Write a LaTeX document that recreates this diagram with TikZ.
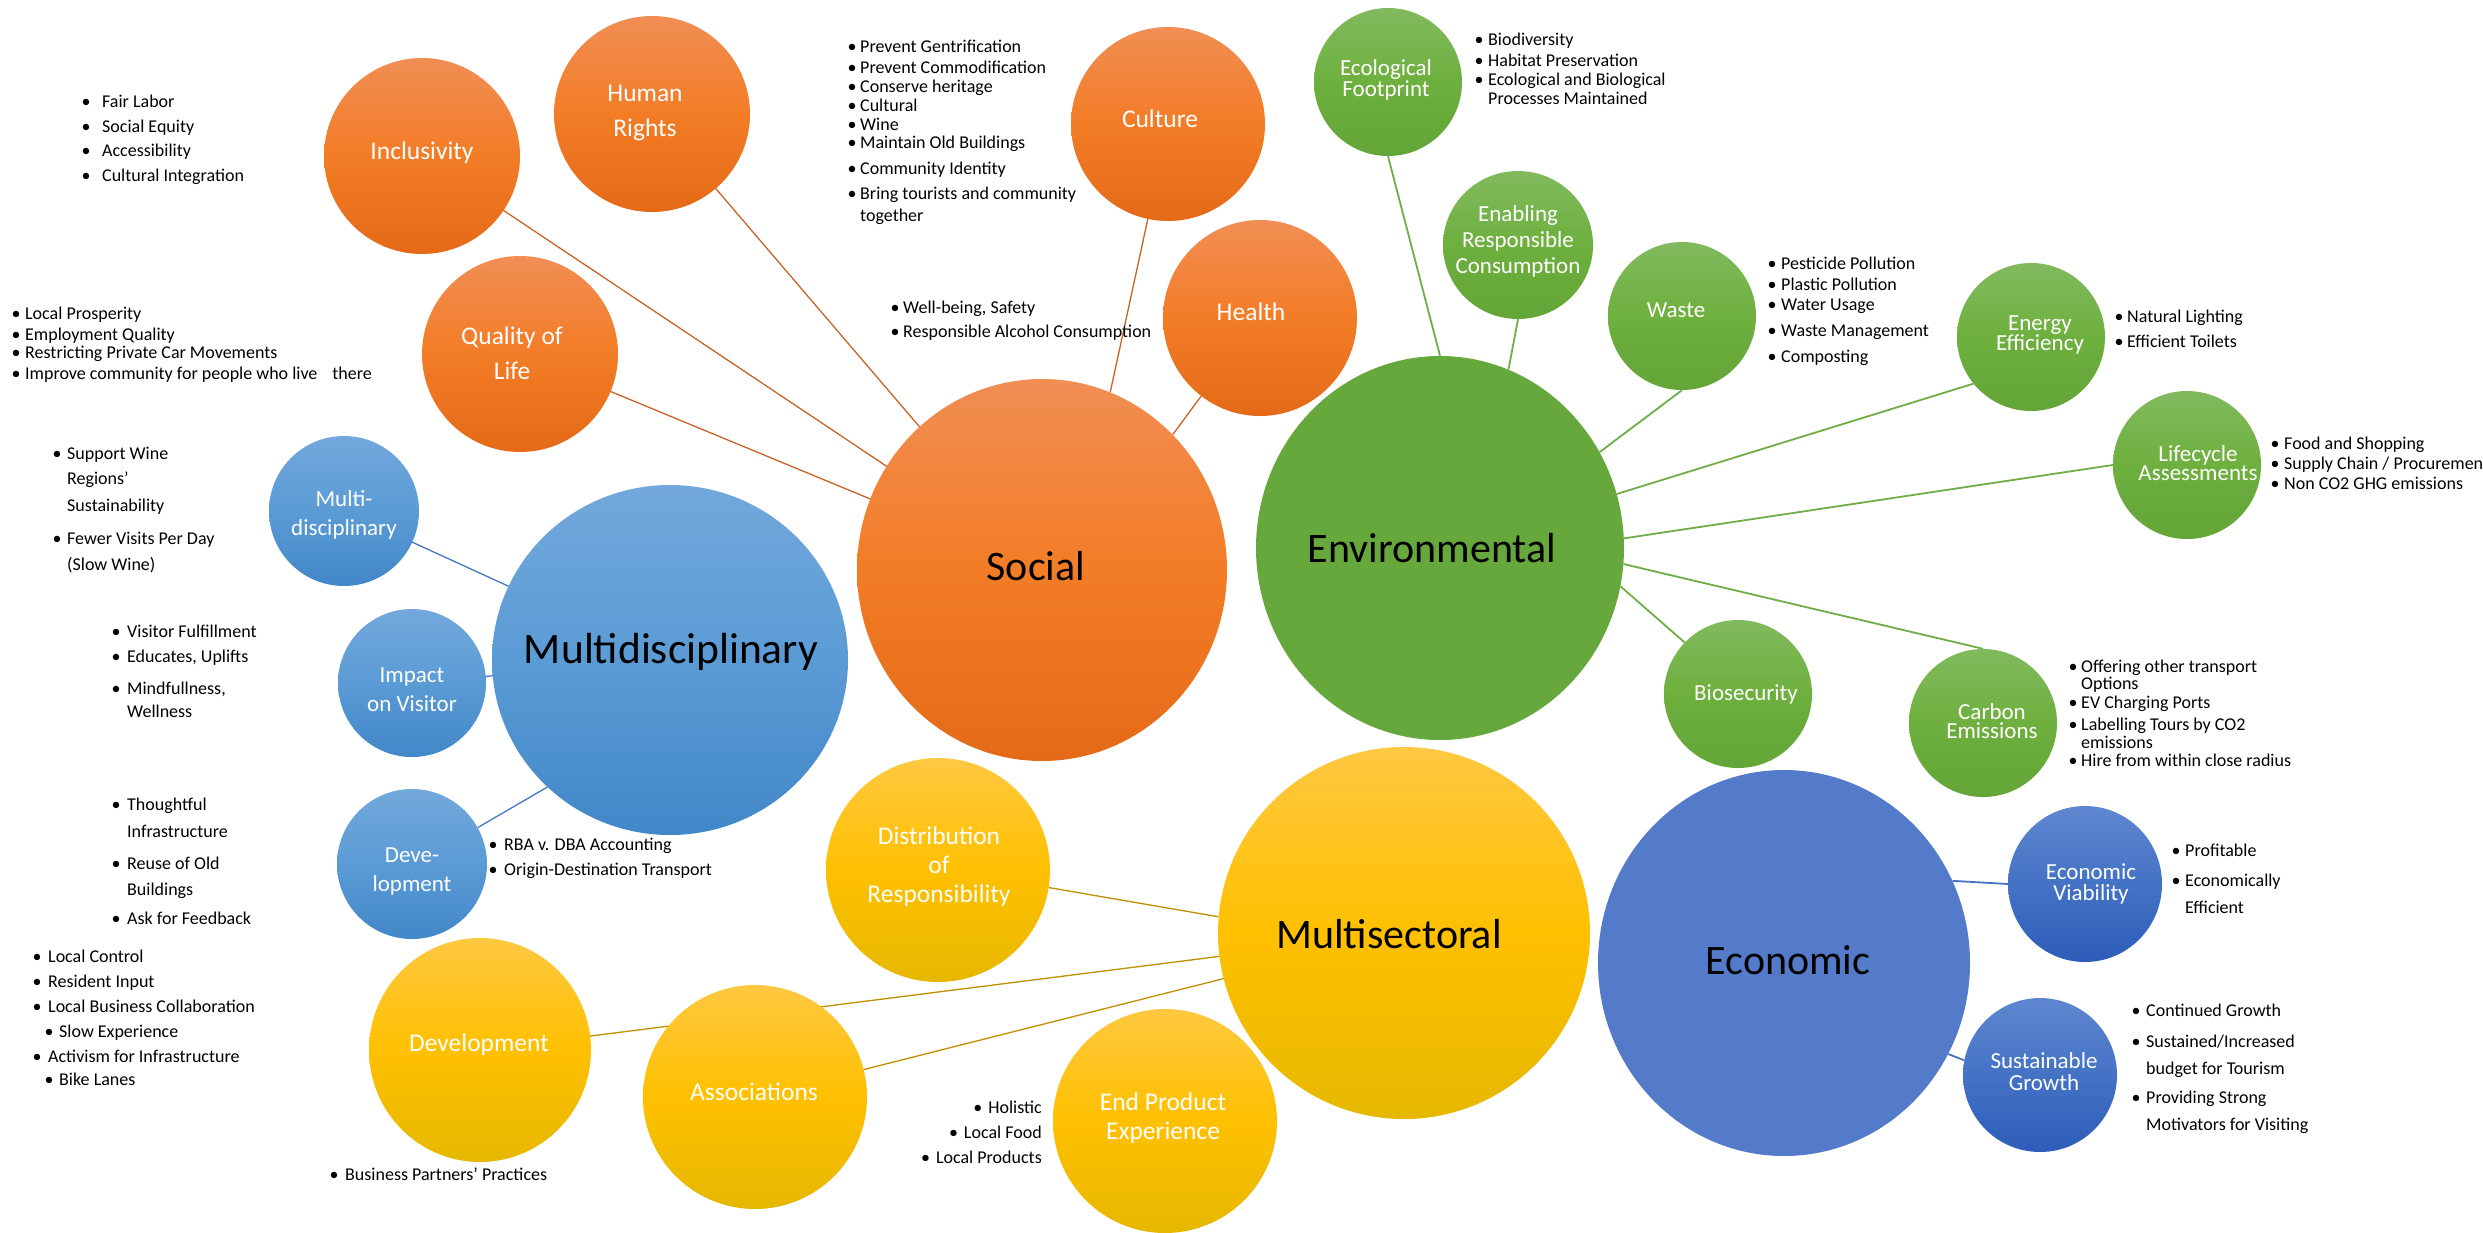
\documentclass[tikz,border=0pt]{standalone}
\usepackage{fontspec}
\setmainfont{Carlito}
\usetikzlibrary{shapes.geometric}
\pgfdeclarelayer{bg}
\pgfdeclarelayer{lines}
\pgfsetlayers{bg,lines,main}
\definecolor{orT}{RGB}{241,142,84}
\definecolor{orM}{RGB}{243,124,38}
\definecolor{orB}{RGB}{228,106,24}
\definecolor{grT}{RGB}{129,186,94}
\definecolor{grM}{RGB}{110,176,62}
\definecolor{grB}{RGB}{99,165,55}
\definecolor{grF}{RGB}{102,168,59}
\definecolor{blT}{RGB}{114,168,220}
\definecolor{blM}{RGB}{91,155,213}
\definecolor{blB}{RGB}{66,135,200}
\definecolor{ylT}{RGB}{255,200,65}
\definecolor{ylM}{RGB}{255,192,0}
\definecolor{ylB}{RGB}{230,184,0}
\definecolor{dbT}{RGB}{95,135,208}
\definecolor{dbM}{RGB}{68,114,196}
\definecolor{dbB}{RGB}{45,93,185}
\definecolor{ecF}{RGB}{84,123,201}
\definecolor{lnO}{RGB}{200,100,40}
\definecolor{lnG}{RGB}{112,173,71}
\definecolor{lnB}{RGB}{70,120,195}
\definecolor{lnY}{RGB}{191,144,0}
\newcommand\lstfont{\fontsize{18}{21}\selectfont}
\newcommand\bulitem[5]{\node[lst] (#1) at ({#2-4.5},{#4+5}) {\makebox[\dimexpr #3pt-#2pt+4.5pt\relax][l]{\textbullet}#5};}
\newcommand\contitem[4]{\node[lst] (#1) at (#2,{#3+5}) {#4};}
\tikzset{
  lst/.style={anchor=base west, inner sep=0pt, font=\lstfont},
  lstr/.style={anchor=base east, inner sep=0pt, font=\lstfont},
  rxy/.style 2 args={minimum width={#1pt*2}, minimum height={#2pt*2}},
  bub/.style={ellipse, inner sep=0pt, draw=none},
  obub/.style={bub, top color=orT, bottom color=orB, middle color=orM},
  gbub/.style={bub, top color=grT, bottom color=grB, middle color=grM},
  bbub/.style={bub, top color=blT, bottom color=blB, middle color=blM},
  ybub/.style={bub, top color=ylT, bottom color=ylB, middle color=ylM},
  dbub/.style={bub, top color=dbT, bottom color=dbB, middle color=dbM},
  lblw/.style={text=white, align=center, inner sep=0pt},
  lbla/.style={lblw, font=\fontsize{25.5}{29}\selectfont},
  lblb/.style={lblw, font=\fontsize{23}{19}\selectfont},
  lblk/.style={text=black, inner sep=0pt, font=\fontsize{42}{46}\selectfont},
  lo/.style={draw=lnO, line width=1.3pt},
  lg/.style={draw=lnG, line width=1.8pt},
  lb/.style={draw=lnB, line width=1.3pt},
  ly/.style={draw=lnY, line width=1.3pt},
  ld/.style={draw=dbM, line width=1.8pt},
}
\begin{document}
\begin{tikzpicture}[x=1pt,y=-1pt]
\useasboundingbox (0,0) rectangle (2483,1232);
\begin{pgfonlayer}{bg}
\fill[white] (0,0) rectangle (2483,1232);
\end{pgfonlayer}

% ---------- bubbles ----------
\node[obub, rxy={98}{98}] (incl) at (422,156) {};
\node[obub, rxy={98}{98}] (hum) at (652,114) {};
\node[obub, rxy={98}{98}] (qol) at (520,354) {};
\node[obub, rxy={97}{97}] (cult) at (1168,124) {};
\node[obub, rxy={97}{98}] (hlth) at (1260,318) {};
\node[obub, rxy={185}{191}] (soc) at (1042,570) {};

\node[bub, fill=grF, rxy={184}{192}] (env) at (1440,548) {};
\node[gbub, rxy={74}{74}] (eco) at (1388,82) {};
\node[gbub, rxy={75}{74}] (enab) at (1518,245) {};
\node[gbub, rxy={74}{74}] (waste) at (1682,316) {};
\node[gbub, rxy={74}{74}] (enrg) at (2031,337) {};
\node[gbub, rxy={74}{74}] (life) at (2187,465) {};
\node[gbub, rxy={74}{74}] (bio) at (1738,694) {};
\node[gbub, rxy={74}{74}] (carb) at (1983,723) {};

\node[bbub, rxy={178}{175}] (mdis) at (670,660) {};
\node[bbub, rxy={75}{75}] (mdsm) at (344,511) {};
\node[bbub, rxy={74}{74}] (imp) at (412,683) {};
\node[bbub, rxy={75}{75}] (dvs) at (412,864) {};

\node[ybub, rxy={186}{186}] (msec) at (1404,933) {};
\node[ybub, rxy={112}{112}] (dist) at (938,870) {};
\node[ybub, rxy={111}{112}] (dev) at (480,1050) {};
\node[ybub, rxy={112}{112}] (assoc) at (755,1097) {};
\node[ybub, rxy={112}{112}] (endp) at (1165,1121) {};

\node[bub, fill=ecF, rxy={186}{193}] (econ) at (1784,963) {};
\node[dbub, rxy={77}{78}] (viab) at (2085,884) {};
\node[dbub, rxy={77}{77}] (sust) at (2040,1075) {};

% ---------- bubble labels ----------
\node[lbla] (inclL) at (422,153) {Inclusivity};
\node[lblw, font=\fontsize{25.5}{35}\selectfont] (humL) at (645,113) {Human\\Rights};
\node[lblw, font=\fontsize{25.5}{35}\selectfont] (qolL) at (512,353) {Quality of\\Life};
\node[lbla] (cultL) at (1160,119) {Culture};
\node[lbla] (hlthL) at (1251,312) {Health};
\node[lblk] (socL) at (1036,566) {Social};
\node[lblk] (envL) at (1432,548) {Environmental};
\node[lblb] (ecoL) at (1386,80) {Ecological\\Footprint};
\node[lblw, font=\fontsize{23}{26}\selectfont] (enabL) at (1518,241) {Enabling\\Responsible\\Consumption};
\node[lblb] (wasteL) at (1676,310) {Waste};
\node[lblb] (enrgL) at (2040,335) {Energy\\Efficiency};
\node[lblb] (lifeL) at (2198,463) {Lifecycle\\Assessments};
\node[lblb] (bioL) at (1746,694) {Biosecurity};
\node[lblb] (carbL) at (1992,721) {Carbon\\Emissions};
\node[lblw, font=\fontsize{23}{29}\selectfont] (mdsmL) at (344,515) {Multi-\\disciplinary};
\node[lblw, font=\fontsize{23}{29}\selectfont] (impL) at (412,690) {Impact\\on Visitor};
\node[lblw, font=\fontsize{23}{29}\selectfont] (dvsL) at (412,871) {Deve-\\lopment};
\node[lblk, font=\fontsize{43.5}{46}\selectfont] (mdisL) at (671,652) {Multidisciplinary};
\node[lbla] (distL) at (939,867) {Distribution\\of\\Responsibility};
\node[lbla] (devL) at (479,1045) {Development};
\node[lbla] (assocL) at (754,1092) {Associations};
\node[lbla] (endpL) at (1163,1118) {End Product\\Experience};
\node[lblk] (msecL) at (1389,934) {Multisectoral};
\node[lblk] (econL) at (1788,960) {Economic};
\node[lblw, font=\fontsize{23}{21}\selectfont] (viabL) at (2091,884) {Economic\\Viability};
\node[lblw, font=\fontsize{23}{22}\selectfont] (sustL) at (2044,1072) {Sustainable\\Growth};

% ---------- connectors ----------
\begin{pgfonlayer}{lines}
\draw[lo] (incl.center) -- (soc.center);
\draw[lo] (hum.center) -- (soc.center);
\draw[lo] (qol.center) -- (soc.center);
\draw[lo] (cult.-102) -- (soc.69);
\draw[lo] (hlth.-127) -- (soc.46);
\draw[lg] (eco.south) -- (env.90);
\draw[lg] (enab.south) -- (env.69);
\draw[lg] (waste.south) -- (env.31.6);
\draw[lg] (enrg.219.6) -- (env.17.5);
\draw[lg] (life.west) -- (env.3.4);
\draw[lg] (carb.north) -- (env.-5.5);
\draw[lg] (bio.136) -- (env.-12.6);
\draw[lb] (mdsm.center) -- (mdis.center);
\draw[lb] (imp.center) -- (mdis.center);
\draw[lb] (dvs.29) -- (mdis.226);
\draw[ly] (dist.-9.6) -- (msec.175);
\draw[ly] (dev.center) -- (msec.center);
\draw[ly] (assoc.center) -- (msec.center);
\draw[ld] (viab.west) -- (econ.26);
\draw[ld] (sust.169) -- (econ.-29);
\end{pgfonlayer}

% ---------- bullet lists ----------
\bulitem{a1}{86}{102}{102}{Fair Labor}
\bulitem{a2}{86}{102}{127}{Social Equity}
\bulitem{a3}{86}{102}{151}{Accessibility}
\bulitem{a4}{86}{102}{176}{Cultural Integration}

\bulitem{b1}{16}{25}{314}{Local Prosperity}
\bulitem{b2}{16}{25}{335}{Employment Quality}
\bulitem{b3}{16}{25}{353}{Restricting Private Car Movements}
\bulitem{b4}{16}{25}{374}{Improve community for people who live\hspace{15pt}there}

\bulitem{c1}{57}{67}{454}{Support Wine}
\contitem{c2}{67}{479}{Regions'}
\contitem{c3}{67}{506}{Sustainability}
\bulitem{c4}{57}{67}{539}{Fewer Visits Per Day}
\contitem{c5}{67}{565}{(Slow Wine)}

\bulitem{d1}{116}{127}{632}{Visitor Fulfillment}
\bulitem{d2}{116}{127}{657}{Educates, Uplifts}
\bulitem{d3}{116}{127}{689}{Mindfullness,}
\contitem{d4}{127}{712}{Wellness}

\bulitem{e1}{116}{127}{805}{Thoughtful}
\contitem{e2}{127}{832}{Infrastructure}
\bulitem{e3}{116}{127}{864}{Reuse of Old}
\contitem{e4}{127}{890}{Buildings}
\bulitem{e5}{116}{127}{919}{Ask for Feedback}

\bulitem{f1}{37}{48}{957}{Local Control}
\bulitem{f2}{37}{48}{982}{Resident Input}
\bulitem{f3}{37}{48}{1007}{Local Business Collaboration}
\bulitem{f4}{49}{59}{1032}{Slow Experience}
\bulitem{f5}{37}{48}{1057}{Activism for Infrastructure}
\bulitem{f6}{49}{59}{1080}{Bike Lanes}

\bulitem{g1}{493}{504}{845}{RBA v. DBA Accounting}
\bulitem{g2}{493}{504}{870}{Origin-Destination Transport}

\bulitem{h1}{334}{345}{1175}{Business Partners' Practices}

\node[lstr] (i1) at (1042,1113) {\textbullet\hspace{6pt}Holistic};
\node[lstr] (i2) at (1042,1138) {\textbullet\hspace{6pt}Local Food};
\node[lstr] (i3) at (1042,1163) {\textbullet\hspace{6pt}Local Products};

\bulitem{j1}{852}{860}{47}{Prevent Gentrification}
\bulitem{j2}{852}{860}{68}{Prevent Commodification}
\bulitem{j3}{852}{860}{87}{Conserve heritage}
\bulitem{j4}{852}{860}{106}{Cultural}
\bulitem{j5}{852}{860}{125}{Wine}
\bulitem{j6}{852}{860}{143}{Maintain Old Buildings}
\bulitem{j7}{852}{860}{169}{Community Identity}
\bulitem{j8}{852}{860}{194}{Bring tourists and community}
\contitem{j9}{860}{216}{together}

\bulitem{k1}{895}{903}{308}{Well-being, Safety}
\bulitem{k2}{895}{903}{332}{Responsible Alcohol Consumption}

\bulitem{m1}{1479}{1488}{40}{Biodiversity}
\bulitem{m2}{1479}{1488}{61}{Habitat Preservation}
\bulitem{m3}{1479}{1488}{80}{Ecological and Biological}
\contitem{m4}{1488}{99}{Processes Maintained}

\bulitem{n1}{1772}{1781}{264}{Pesticide Pollution}
\bulitem{n2}{1772}{1781}{285}{Plastic Pollution}
\bulitem{n3}{1772}{1781}{305}{Water Usage}
\bulitem{n4}{1772}{1781}{331}{Waste Management}
\bulitem{n5}{1772}{1781}{357}{Composting}

\bulitem{o1}{2119}{2127}{317}{Natural Lighting}
\bulitem{o2}{2119}{2127}{342}{Efficient Toilets}

\bulitem{p1}{2275}{2284}{444}{Food and Shopping}
\bulitem{p2}{2275}{2284}{464}{Supply Chain / Procurement}
\bulitem{p3}{2275}{2284}{484}{Non CO2 GHG emissions}

\bulitem{q1}{2073}{2081}{667}{Offering other transport}
\contitem{q2}{2081}{684}{Options}
\bulitem{q3}{2073}{2081}{703}{EV Charging Ports}
\bulitem{q4}{2073}{2081}{725}{Labelling Tours by CO2}
\contitem{q5}{2081}{743}{emissions}
\bulitem{q6}{2073}{2081}{761}{Hire from within close radius}

\bulitem{r1}{2176}{2185}{851}{Profitable}
\bulitem{r2}{2176}{2185}{881}{Economically}
\contitem{r3}{2185}{908}{Efficient}

\bulitem{s1}{2136}{2146}{1011}{Continued Growth}
\bulitem{s2}{2136}{2146}{1042}{Sustained/Increased}
\contitem{s3}{2146}{1069}{budget for Tourism}
\bulitem{s4}{2136}{2146}{1098}{Providing Strong}
\contitem{s5}{2146}{1125}{Motivators for Visiting}
\end{tikzpicture}
\end{document}
